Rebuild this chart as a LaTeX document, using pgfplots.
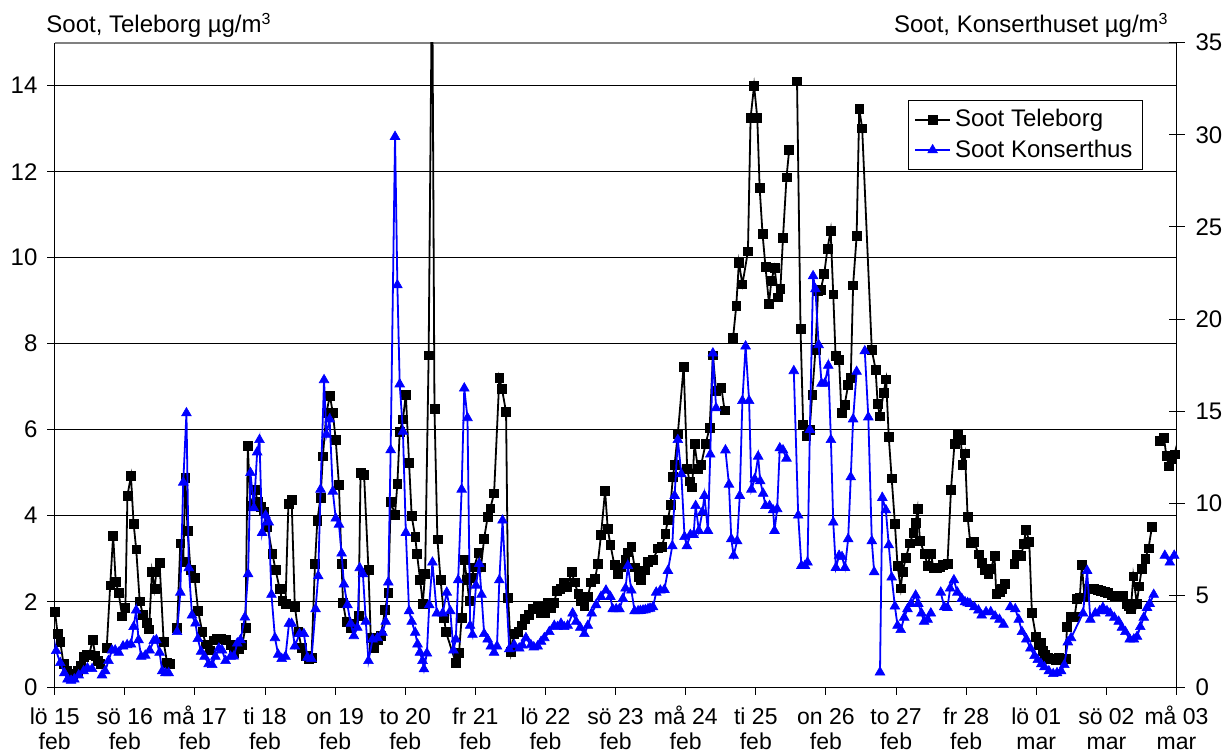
\documentclass[border=0pt]{standalone}
\usepackage{fontspec}
\setmainfont{Liberation Sans}
\usepackage{pgfplots}
\pgfplotsset{compat=1.18}
\newcommand\dayl{\rule{0pt}{10pt}}

\begin{document}
\begin{tikzpicture}
\useasboundingbox (0,0) rectangle (613pt,377pt);
\pgfplotsset{
  sootaxis/.style={
    at={(27.35pt,33.15pt)}, anchor=south west,
    scale only axis, width=560.9pt, height=322.5pt,
    xmin=0, xmax=384,
    unbounded coords=jump,
    /pgf/number format/assume math mode=true,
    tick label style={font=\fontsize{12}{13.8}\selectfont, black},
    every tick/.style={black, line width=0.5pt},
    axis line style={-, black, line width=0.6pt},
  },
  legend image code/.code={\draw[mark repeat=2,mark phase=2,#1] plot coordinates {(0pt,0pt) (8.75pt,0pt) (17.5pt,0pt)};},
}
% Teleborg (left axis), hourly soot, x in hours from 15 Feb 00:00
\begin{axis}[sootaxis,
  axis x line*=bottom, axis y line*=left,
  tick align=outside, major tick length=3.6pt,
  ymin=0, ymax=15, ytick={0,2,...,14},
  ymajorgrids, grid style={black, line width=0.5pt},
  xtick={0,24,...,384},
  xticklabels={{\dayl lö 15\\feb},{\dayl sö 16\\feb},{\dayl må 17\\feb},{\dayl ti 18\\feb},{\dayl on 19\\feb},{\dayl to 20\\feb},{\dayl fr 21\\feb},{\dayl lö 22\\feb},{\dayl sö 23\\feb},{\dayl må 24\\feb},{\dayl ti 25\\feb},{\dayl on 26\\feb},{\dayl to 27\\feb},{\dayl fr 28\\feb},{\dayl lö 01\\mar},{\dayl sö 02\\mar},{\dayl må 03\\mar}},
  xticklabel style={align=center, font=\fontsize{11.5}{12.8}\selectfont, inner ysep=0pt, yshift=-4.5pt},
  yticklabel style={xshift=-1.5pt},
]
\draw[gray, line width=0.9pt] (rel axis cs:0,1) -- (rel axis cs:1,1);
\addplot[black, line width=0.9pt, mark=square*, mark size=2.2pt, mark options={solid, line width=0.3pt}] coordinates {
(0.1,1.77) (1.0,1.25) (1.9,1.07) (3.0,0.56) (4.2,0.4) (5.3,0.33) (6.4,0.3) (7.8,0.4) (8.8,0.5) (9.9,0.71) (10.9,0.77) (11.8,0.76) (13.0,1.12) (13.9,0.75) (14.8,0.63) (15.6,0.55) (16.5,nan)
(17.8,0.92) (19.0,2.38) (20.0,3.54) (20.9,2.46) (21.9,2.2) (23.1,1.66) (24.2,1.85) (24.9,4.47) (26.1,4.92) (27.0,3.82) (27.9,3.22) (29.1,2.01) (30.2,1.7) (31.4,1.5) (32.3,1.36) (33.3,2.7) (34.2,2.3) (34.8,2.7) (35.9,2.9) (37.3,1.06) (38.5,0.57) (39.4,0.56) (40.5,nan)
(41.9,1.4) (43.0,3.36) (44.0,2.92) (44.7,4.88) (45.5,3.65) (46.5,2.74) (47.9,2.55) (49.1,1.78) (50.5,1.3) (51.8,1.01) (53.1,0.87) (54.4,1.1) (55.6,1.14) (57.0,1.15) (58.5,1.12) (60.2,1.0) (61.3,0.8) (63.0,0.9) (64.2,1.0) (65.3,1.4) (66.1,5.62) (67.0,4.23) (68.7,4.6) (69.4,4.32) (70.5,4.2) (71.6,4.1) (72.8,3.75) (74.5,3.12) (75.6,2.74) (77.0,2.3) (77.9,2.02) (79.0,1.95) (80.0,4.28) (81.1,4.37) (82.2,1.88) (83.4,1.3) (84.5,0.92) (85.9,0.75) (86.9,0.66) (87.9,0.7)
(89.1,2.88) (89.9,3.89) (91.0,4.42) (91.8,5.38) (93.0,6.39) (94.2,6.79) (95.2,6.39) (96.2,5.76) (97.3,4.71) (98.2,2.88) (98.7,1.97) (99.8,1.54) (101.3,1.4) (102.4,1.49) (104.0,1.68) (104.7,5.0) (105.9,4.95) (107.4,2.74) (108.2,1.16) (109.3,0.92) (110.5,1.1) (111.6,1.2) (113.1,1.82) (114.2,2.21) (115.0,4.32) (116.5,4.03) (117.3,4.75) (118.1,5.95) (119.2,6.24) (120.2,6.82) (121.3,5.23) (122.2,3.99) (123.4,3.51) (124.0,3.12) (125.1,2.5) (126.0,1.96) (126.8,2.64) (128.0,7.73) (129.2,17) (130.0,6.48) (131.0,3.45) (132.1,2.5) (133.3,1.63) (133.9,1.3)
(137.3,0.58) (138.4,0.81) (139.3,1.63) (140.2,2.97) (141.1,2.5) (141.9,2.03) (142.7,2.55) (143.6,2.8) (145.0,3.14) (145.9,2.8) (147.0,3.47) (148.2,3.97) (149.1,4.17) (150.4,4.52) (152.2,7.2) (153.1,6.95) (154.5,6.41) (155.2,2.09) (156.2,0.83)
(157.3,1.25) (158.7,1.3) (159.8,1.45) (161.0,1.6) (162.2,1.7) (163.6,1.84) (165.3,1.9) (166.5,1.75) (167.8,1.75) (168.8,1.98) (169.9,1.85) (171.0,1.98) (171.9,2.26) (173.1,2.3) (174.2,2.45) (175.4,2.35) (177.0,2.69) (177.9,2.45) (179.2,2.19) (180.2,2.03) (181.3,1.9) (182.5,2.12) (183.6,2.45) (185.0,2.53) (185.9,2.89) (187.0,3.55) (188.4,4.58) (189.3,3.7) (190.2,3.33) (191.6,2.85) (192.8,2.64) (193.9,2.8) (195.3,2.97) (196.3,3.15) (197.4,3.27) (198.5,2.8) (199.8,2.58) (200.7,2.5) (201.9,2.73) (203.0,2.93) (204.8,2.97) (206.5,3.24) (207.8,3.27) (209.0,3.58) (209.9,3.9) (210.8,4.25) (211.6,4.9) (212.2,5.19) (213.3,5.91) (215.3,7.47) (216.5,5.09) (217.3,4.8) (218.2,4.66) (219.0,5.67) (220.2,5.09) (221.3,5.19) (222.8,5.67) (224.2,6.05) (225.3,7.73) (226.4,6.9) (228.2,6.98) (229.3,6.45) (230.5,nan)
(232.2,8.13) (233.3,8.88) (234.2,9.89) (235.4,9.38) (237.3,10.15) (238.2,13.25) (239.4,14.0) (240.5,13.25) (241.3,11.63) (242.3,10.55) (243.3,9.79) (244.5,8.93) (245.3,9.46) (246.4,9.77) (247.6,9.08) (248.4,9.27) (249.3,10.47) (250.5,11.87) (251.4,12.5) (252.5,nan)
(254.1,14.1) (255.3,8.34) (256.2,6.12) (257.3,5.86) (258.4,6.0) (259.3,6.82) (260.4,7.85) (261.3,9.22) (262.2,9.25) (263.4,9.62) (264.5,10.2) (265.6,10.63) (266.5,9.15) (267.3,7.71) (268.5,7.62) (269.3,6.39) (270.4,6.58) (271.6,7.04) (272.5,7.2) (273.3,9.36) (274.5,10.5) (275.4,13.46) (276.4,13.01) (279.7,7.85) (281.0,7.4) (281.7,6.6) (282.5,6.31) (283.7,6.85) (284.6,7.17) (285.5,5.83) (286.5,4.87) (287.6,3.82) (288.5,2.84) (289.6,2.31) (290.2,2.69) (291.4,3.03) (292.7,3.36) (293.9,3.6) (294.7,3.84) (295.4,4.16) (296.2,3.41) (297.7,3.12) (298.8,2.84) (299.9,3.12) (300.8,2.79) (301.9,2.79) (303.1,2.8) (304.1,2.86) (305.6,2.88) (306.8,4.61) (308.0,5.67) (309.0,5.89) (310.2,5.76) (310.7,5.19) (311.6,5.45) (312.5,3.97) (313.4,3.37) (314.8,3.39) (316.2,3.1) (317.3,2.9) (318.3,2.75) (319.6,2.64) (320.5,2.77) (321.7,3.06) (322.3,2.19) (323.4,2.22) (324.3,2.3) (325.1,2.42) (326.5,nan)
(328.5,2.89) (329.4,3.1) (330.8,3.06) (331.7,3.34) (332.5,3.68) (333.6,3.39) (334.5,1.74) (335.9,1.18) (336.7,1.0) (337.6,1.05) (338.2,0.85) (339.0,0.76) (339.9,0.7) (341.1,0.68) (342.0,0.66) (342.8,0.65) (343.7,0.7) (344.5,0.68) (345.2,0.68) (346.0,0.68) (346.5,1.41) (347.9,1.65) (349.1,1.65) (350.0,2.07) (350.9,2.1) (351.6,2.85) (352.5,2.1) (353.5,2.3) (354.6,2.31) (355.7,2.3) (357.1,2.27) (358.2,2.25) (359.4,2.23) (360.6,2.2) (361.7,2.15) (362.8,2.1) (364.0,2.12) (364.9,2.15) (365.7,2.15) (366.9,1.96) (367.6,1.9) (368.4,1.84) (369.2,2.59) (370.4,1.96) (371.2,2.36) (372.1,2.77) (373.3,3.0) (374.4,3.24) (375.6,3.74) (377.0,nan)
(378.3,5.74) (379.7,5.82) (380.5,5.4) (381.4,5.15) (382.2,5.33) (383.3,5.43) (384.5,5.74) (386.1,5.3)
};
\end{axis}
% Konserthuset (right axis)
\begin{axis}[sootaxis,
  axis x line=none, axis y line*=right,
  tick align=center, major tick length=8pt,
  ymin=0, ymax=35, ytick={0,5,...,35},
  yticklabel style={xshift=2pt},
  legend style={at={(0.7604,0.9112)}, anchor=north west, draw=black, line width=0.5pt,
    font=\fontsize{12}{14}\selectfont, inner xsep=3pt, inner ysep=2.5pt, row sep=1pt},
  legend cell align=left,
]
\addlegendimage{black, line width=0.9pt, mark=square*, mark size=2.2pt, mark options={solid, line width=0.3pt}}
\addlegendentry{Soot Teleborg}
\addplot[blue, line width=0.9pt, mark=triangle*, mark size=2.8pt, mark options={solid, line width=0.3pt}] coordinates {
(-1,3.2) (0.5,2.0) (1.9,1.35) (3.3,0.8) (4.4,0.46) (5.6,0.39) (6.7,0.46) (8.2,0.68) (9.9,0.9) (11.2,1.06) (12.8,1.02) (14.5,nan)
(16.2,0.68) (17.3,0.9) (18.4,1.46) (19.6,2.03) (20.7,2.03) (21.9,1.91) (23.4,2.25) (24.8,2.32) (26.1,2.36) (27.0,3.3) (27.9,4.2) (28.7,2.59) (29.6,1.69) (31.0,1.75) (32.5,2.03) (33.9,2.54) (34.8,2.59) (35.9,1.91) (36.8,0.9) (37.9,0.8) (39.0,0.8) (40.5,nan)
(41.9,3.03) (43.0,5.17) (44.0,11.14) (45.1,14.9) (45.9,6.5) (47.0,3.93) (48.2,3.49) (49.0,2.65) (50.1,1.96) (51.3,1.69) (52.7,1.29) (53.9,1.24) (55.0,1.69) (56.2,2.14) (57.3,2.03) (58.5,1.46) (60.2,1.69) (61.3,1.7) (62.5,2.41) (63.6,2.59) (65.1,3.82) (66.2,6.17) (67.0,11.66) (68.2,9.75) (69.3,12.78) (70.1,13.45) (71.0,8.41) (72.2,9.35) (73.3,8.97) (74.2,5.05) (75.4,2.7) (76.5,1.8) (77.7,1.57) (79.0,1.69) (80.2,3.48) (81.1,3.48) (82.2,2.25) (83.8,2.92) (85.3,2.92) (86.5,1.64) (87.9,1.57)
(89.3,4.27) (90.2,6.06) (91.0,10.76) (92.2,16.7) (93.0,13.74) (94.1,14.57) (95.2,10.65) (96.2,9.19) (97.3,8.86) (98.2,7.29) (99.0,5.61) (100.2,4.49) (101.3,3.48) (102.4,2.81) (103.6,3.26) (104.4,6.5) (105.5,6.17) (106.5,3.59) (107.4,1.46) (108.8,2.63) (110.5,2.7) (112.2,2.99) (113.3,3.59) (114.2,5.72) (115.0,12.9) (116.5,29.9) (117.3,21.85) (118.1,16.47) (119.2,13.9) (120.2,8.41) (121.3,4.16) (122.2,3.59) (123.4,2.99) (124.2,2.36) (125.0,1.91) (125.9,1.46) (126.4,1.01)
(127.4,1.87) (128.2,4.49) (129.3,6.8) (130.8,4.04) (132.8,4.04) (134.2,5.17) (135.4,4.16) (136.5,2.03) (137.3,2.63) (138.1,5.84) (139.3,10.76) (140.2,16.25) (141.3,14.64) (142.2,3.37) (143.0,2.88) (144.2,5.55) (145.3,6.73) (146.1,5.05) (147.0,2.92) (148.2,2.63) (149.3,2.25) (150.4,1.91) (151.4,2.25) (152.2,5.84) (153.3,9.08) (155.6,2.1) (157.3,2.32) (159.0,2.14) (160.1,2.3) (161.3,2.7) (163.0,2.32) (164.0,2.2) (165.3,2.25) (166.5,2.5) (167.6,2.7) (169.3,3.03) (171.0,3.37) (172.1,3.3) (173.3,3.48) (174.4,3.3) (175.6,3.37) (177.3,4.04) (178.5,3.59) (179.9,3.26) (181.3,2.92) (182.5,3.37) (183.8,4.04) (185.3,4.49) (187.0,4.94) (188.7,5.28) (190.2,4.94)
(191.0,4.27) (192.2,4.27) (193.3,4.27) (194.5,4.83) (195.4,5.39) (196.2,6.62) (197.4,5.28) (198.5,4.16) (199.7,4.16) (200.5,4.18) (201.4,4.2) (202.2,4.22) (203.1,4.27) (203.8,4.3) (204.8,4.38) (205.9,5.17) (207.3,5.28) (208.7,5.32) (209.9,6.35) (211.4,7.69) (212.2,10.42) (213.3,13.45) (214.5,11.59) (215.6,8.19) (216.4,7.69) (217.6,8.3) (218.7,8.3) (219.4,9.87) (220.5,8.52) (221.7,9.53) (222.4,10.42) (223.6,8.52) (224.4,12.66) (225.3,18.15) (226.4,15.17) (228.0,nan)
(229.6,12.89) (230.8,11.03) (231.6,8.07) (232.4,7.17) (233.6,7.96) (234.5,10.42) (235.4,15.57) (236.5,18.53) (237.7,15.57) (238.5,10.76) (239.6,11.32) (240.8,12.55) (241.5,11.21) (242.5,10.54) (243.3,9.87) (244.7,9.87) (245.9,9.64) (246.4,8.52) (247.3,9.7) (248.2,13.0) (249.3,12.89) (250.5,12.44) (251.8,nan)
(253.0,17.19) (254.5,9.35) (255.6,6.62) (256.8,6.62) (257.7,6.8) (258.5,14.0) (259.6,22.34) (260.4,21.63) (261.5,18.6) (262.5,16.51) (263.6,16.51) (264.8,17.48) (265.7,13.45) (266.5,8.97) (267.4,6.51) (268.5,7.17) (269.5,7.1) (270.5,6.51) (271.6,8.07) (272.5,11.43) (273.3,14.57) (274.5,17.15) (276.0,nan)
(277.3,18.27) (278.5,14.68) (279.7,7.96) (280.5,6.28) (281.5,nan)
(282.5,0.84) (283.3,10.31) (284.5,9.64) (285.5,7.74) (286.5,5.99) (287.6,4.42) (288.5,3.37) (289.6,3.14) (290.8,3.81) (291.9,4.27) (293.1,4.56) (294.7,5.01) (295.6,4.56) (296.7,4.04) (297.6,3.59) (298.8,3.7) (299.9,4.04) (301.5,nan)
(303.3,5.17) (304.5,4.38) (305.6,4.34) (306.5,5.39) (307.8,5.84) (309.0,5.17) (310.5,4.83) (311.6,4.65) (312.5,4.6) (313.3,4.56) (314.8,4.38) (316.2,4.2) (317.3,3.93) (318.8,4.11) (320.4,4.11) (321.9,3.88) (323.4,3.7) (324.8,3.43) (326.0,nan)
(327.1,4.38) (328.8,4.27) (330.0,3.7) (331.1,3.03) (332.6,2.63) (334.0,2.14) (335.4,1.73) (336.5,1.51) (337.7,1.28) (338.8,1.12) (340.3,0.9) (341.8,0.75) (343.1,0.8) (344.5,0.9) (345.6,1.24) (346.8,2.47) (347.9,2.7) (352.0,4.04) (353.4,6.35) (354.5,3.7) (356.2,4.04) (357.7,4.16) (358.8,4.34) (360.2,4.16) (361.3,4.04) (362.7,3.81) (364.2,3.59) (365.3,3.26) (366.5,3.03) (368.0,2.63) (369.4,2.63) (370.5,2.77) (371.6,3.3) (372.8,3.81) (373.9,4.34) (374.8,4.56) (376.2,5.05) (378.0,nan)
(380.0,7.17) (381.7,6.8) (383.2,7.17) (384.5,7.46) (385.5,6.5)
};
\addlegendentry{Soot Konserthus}
\end{axis}
\node[anchor=base west, inner sep=0pt, font=\fontsize{12}{14}\selectfont] at (23pt,360.5pt) {Soot, Teleborg µg/m\textsuperscript{3}};
\node[anchor=base east, inner sep=0pt, font=\fontsize{12}{14}\selectfont] at (584.5pt,360.5pt) {Soot, Konserthuset µg/m\textsuperscript{3}};
\end{tikzpicture}
\end{document}
